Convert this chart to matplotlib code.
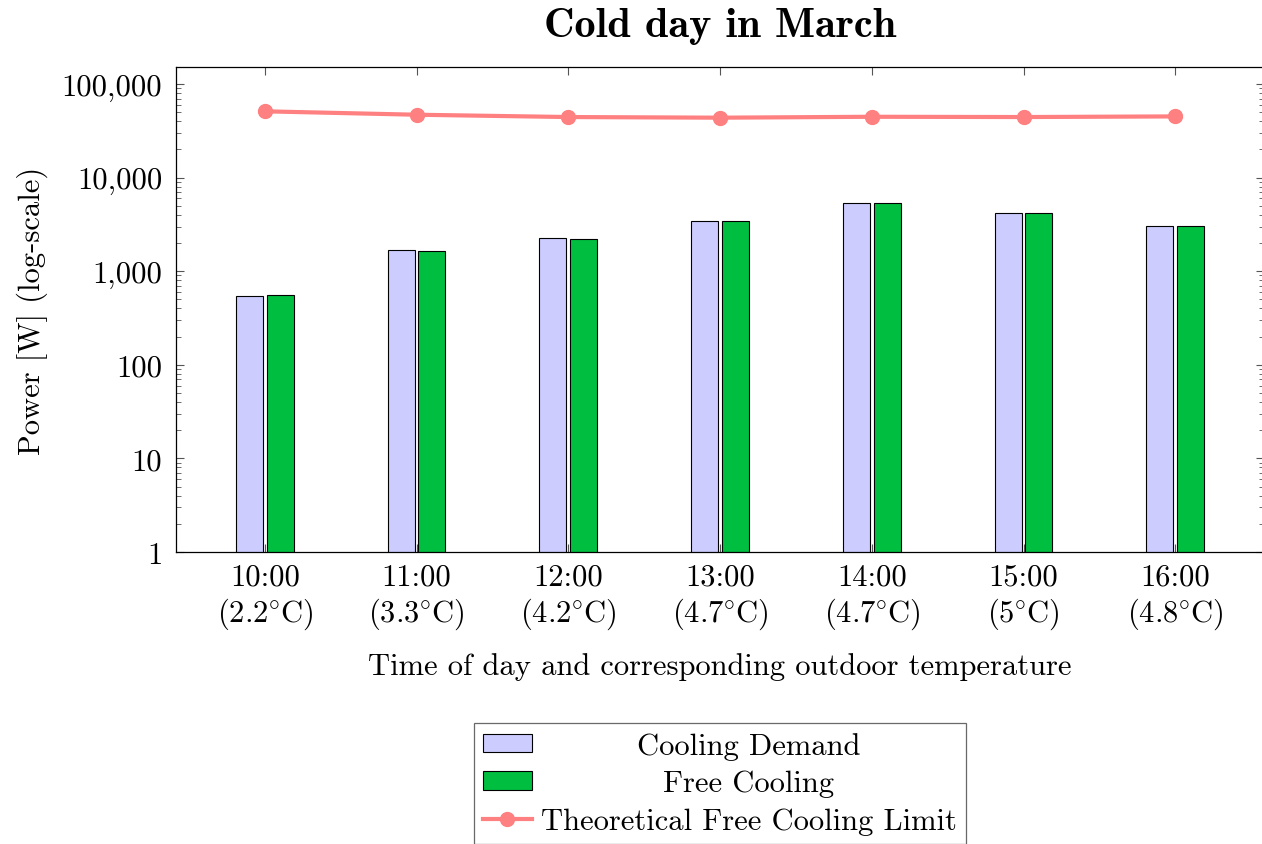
import numpy as np
import matplotlib.pyplot as plt
from matplotlib.ticker import FuncFormatter, LogLocator

plt.rcParams['font.family'] = ['cmr10', 'DejaVu Serif']
plt.rcParams['mathtext.fontset'] = 'cm'
plt.rcParams['axes.formatter.use_mathtext'] = True

hours = ["10:00", "11:00", "12:00", "13:00", "14:00", "15:00", "16:00"]
temps = ["2.2", "3.3", "4.2", "4.7", "4.7", "5", "4.8"]
cooling_demand = [547, 1700, 2260, 3470, 5310, 4150, 3060]
free_cooling = [561, 1655, 2225, 3470, 5310, 4150, 3060]
fc_limit = [51100, 47000, 44400, 43700, 44700, 44400, 45100]

x = np.arange(len(hours))
labels = [f"{h}\n({t}$\\!^\\circ\\!$C)" for h, t in zip(hours, temps)]
fs = 22

fig = plt.figure(figsize=(12.62, 8.45), dpi=100)
ax = fig.add_axes([0.1395, 0.3456, 0.8621, 0.5739])

w = 0.178
b1 = ax.bar(x - 0.101, cooling_demand, w, color='#CCCCFF', edgecolor='black',
            linewidth=0.8, label='Cooling Demand', zorder=2)
b2 = ax.bar(x + 0.101, free_cooling, w, color='#00BF40', edgecolor='black',
            linewidth=0.8, label='Free Cooling', zorder=2)
ln, = ax.plot(x, fc_limit, color='#FF8080', linewidth=3.0, marker='o',
              markersize=10, label='Theoretical Free Cooling Limit', zorder=3)

ax.set_yscale('log')
ax.set_ylim(1, 1.52e5)
ax.set_xlim(-0.585, 6.585)
ax.yaxis.set_major_locator(LogLocator(base=10))
ax.yaxis.set_minor_locator(LogLocator(base=10, subs=np.arange(2, 10)))
ax.yaxis.set_major_formatter(FuncFormatter(lambda v, p: f"{int(round(v)):,}"))
ax.set_xticks(x)
ax.set_xticklabels(labels, linespacing=1.2)

ax.tick_params(axis='both', which='both', direction='in', top=True, right=True,
               labelsize=fs, color='#555555')
ax.tick_params(axis='y', which='major', length=6, width=0.8, pad=10)
ax.tick_params(axis='y', which='minor', length=3.5, width=0.6)
ax.tick_params(axis='x', which='major', length=6, width=0.8, pad=8)
for s in ax.spines.values():
    s.set_linewidth(0.9)

ax.set_ylabel("Power [W] (log-scale)", fontsize=fs, labelpad=10)
ax.set_xlabel("Time of day and corresponding outdoor temperature", fontsize=fs,
              labelpad=15)
fig.text(0.5705, 0.969, "Cold day in March", ha='center', va='center',
         fontsize=30.5, family=['cmb10', 'DejaVu Serif'])

leg = fig.legend([b1, b2, ln], [b1.get_label(), b2.get_label(), ln.get_label()],
                 loc='upper center', bbox_to_anchor=(0.5705, 0.1432),
                 fontsize=fs, frameon=True, fancybox=False, edgecolor='#444444',
                 handlelength=1.6, handleheight=0.55, labelspacing=0.32,
                 borderpad=0.3, handletextpad=0.3, borderaxespad=0)
leg.get_frame().set_linewidth(0.9)

# centre the legend entries in the text column
fig.canvas.draw()
texts = leg.get_texts()
widths = [t.get_window_extent().width for t in texts]
for t, wd in zip(texts, widths):
    t.set_x((max(widths) - wd) / 2)

fig.savefig("out.png", dpi=100)
